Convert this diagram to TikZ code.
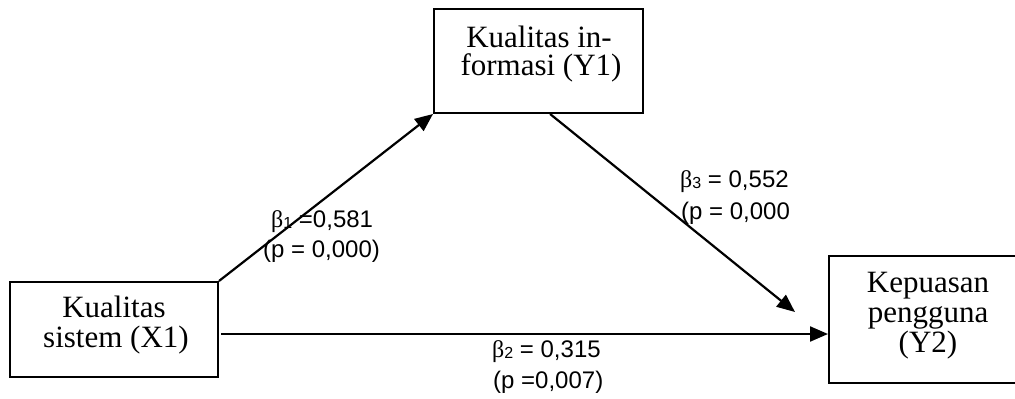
\documentclass[tikz,border=0pt]{standalone}
\usepackage{fontspec}
\setmainfont{Liberation Serif}
\newfontfamily\arialf{Liberation Sans}
\usetikzlibrary{arrows.meta,calc}
\newcommand\bet[1]{{\rmfamily β}{\fontsize{16}{16}\selectfont\raisebox{-1.5pt}{#1}}}
\begin{document}
\begin{tikzpicture}[x=1pt,y=-1pt,
 box/.style={draw,line width=2pt,rectangle,inner sep=0pt},
 boxtxt/.style={font=\fontsize{31}{31}\selectfont,inner sep=0pt,anchor=base},
 lbl/.style={font=\arialf\fontsize{24}{24}\selectfont,inner sep=0pt,anchor=base west},
 arr/.style={line width=2.2pt,-{Triangle[length=18pt,width=15pt]}}]
\useasboundingbox (0,0) rectangle (1015,399);
\clip (0,0) rectangle (1015,399);
% boxes
\node[box,minimum width=208pt,minimum height=95pt] (x1) at (114,329.5) {};
\node[box,minimum width=209pt,minimum height=104pt] (y1) at (538.5,61) {};
\node[box,minimum width=198pt,minimum height=127pt] (y2) at (928,319.5) {};
% box texts
\node[boxtxt] (x1a) at (114,317) {Kualitas};
\node[boxtxt] (x1b) at (116,347) {sistem (X1)};
\node[boxtxt] (y1a) at (539,47) {Kualitas in-};
\node[boxtxt] (y1b) at (541,75) {formasi (Y1)};
\node[boxtxt] (y2a) at (928,292) {Kepuasan};
\node[boxtxt] (y2b) at (928,322) {pengguna};
\node[boxtxt] (y2c) at (928,352) {(Y2)};
% connectors
\coordinate (y1out) at ($(y1.south west)!0.555!(y1.south east)$);
\coordinate (y2in) at (795,312);
\draw[arr] (x1.north east) -- (y1.south west);
\draw[arr] (y1out) -- (y2in);
\draw[arr] ([xshift=2pt,yshift=-4.5pt]x1.east) -- ([yshift=-4.5pt]x1.east -| y2.west);
% labels
\node[lbl] (b1a) at (271,227) {\bet{1} =0,581};
\node[lbl] (b1b) at (263,257) {(p = 0,000)};
\node[lbl] (b3a) at (680,187) {\bet{3} = 0,552};
\node[lbl] (b3b) at (681,219) {(p = 0,000};
\node[lbl] (b2a) at (492,357) {\bet{2} = 0,315};
\node[lbl] (b2b) at (493,388) {(p =0,007)};
\end{tikzpicture}
\end{document}
